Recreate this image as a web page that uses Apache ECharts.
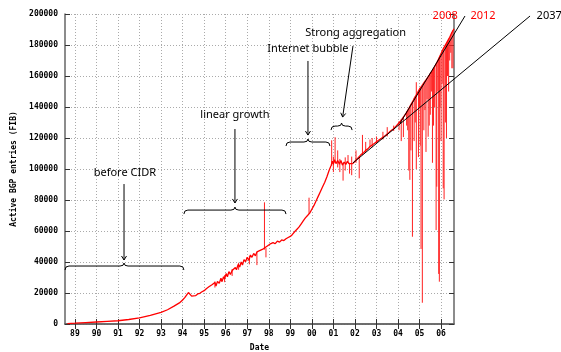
<!DOCTYPE html>
<html><head><meta charset="utf-8">
<script src="https://cdn.jsdelivr.net/npm/echarts@6.0.0/dist/echarts.min.js"></script>
<style>html,body{margin:0;padding:0;background:#fff}#c{width:561px;height:352px}</style>
</head><body><div id="c"></div>
<script>
const yearTicks = [1989,1990,1991,1992,1993,1994,1995,1996,1997,1998,1999,2000,2001,2002,2003,2004,2005,2006];
const yearLabels = ['89','90','91','92','93','94','95','96','97','98','99','00','01','02','03','04','05','06'];
const bgpYears = [1988.65,1989.0,1989.5,1990.0,1990.5,1991.0,1991.5,1992.0,1992.5,1993.0,1993.3,1993.6,1993.85,1994.0,1994.1,1994.2,1994.27,1994.35,1994.42,1994.5,1994.6,1994.7,1994.8,1994.9,1995.0,1995.1,1995.15,1995.22,1995.3,1995.38,1995.45,1995.5,1995.55,1995.62,1995.7,1995.78,1995.83,1995.9,1995.95,1996.02,1996.08,1996.15,1996.22,1996.3,1996.37,1996.45,1996.5,1996.58,1996.65,1996.72,1996.78,1996.85,1996.92,1997.0,1997.08,1997.15,1997.22,1997.3,1997.38,1997.45,1997.52,1997.6,1997.68,1997.75,1997.82,1997.9,1997.97,1998.05,1998.12,1998.2,1998.3,1998.4,1998.5,1998.6,1998.7,1998.8,1998.9,1999.0,1999.1,1999.2,1999.3,1999.4,1999.5,1999.6,1999.7,1999.8,1999.9,2000.0,2000.1,2000.2,2000.3,2000.4,2000.5,2000.6,2000.7,2000.8,2000.9,2000.95,2001.0,2001.05,2001.12,2001.2,2001.28,2001.35,2001.42,2001.5,2001.58,2001.65,2001.72,2001.8,2001.9,2002.0,2002.1,2002.2,2002.3,2002.4,2002.5,2002.6,2002.7,2002.8,2002.9,2003.0,2003.1,2003.2,2003.3,2003.4,2003.5,2003.6,2003.7,2003.8,2003.9,2004.0,2004.1,2004.2,2004.3,2004.4,2004.5,2004.6,2004.7,2004.8,2004.9,2005.0,2005.1,2005.2,2005.3,2005.4,2005.5,2005.6,2005.7,2005.8,2005.9,2006.0,2006.1,2006.2,2006.3,2006.4,2006.5,2006.6];
const bgpEntries = [300,500,900,1300,1700,2100,2900,4000,5600,7500,9200,11500,13600,15500,17000,19000,20300,19200,18000,18600,18300,19400,19800,20800,21500,22800,22000,24000,23200,25500,24300,26800,24500,27500,26200,29500,27300,30500,29000,32500,30500,33800,32000,34500,33500,36500,35000,38500,36800,40000,38000,41500,40200,43000,41000,44500,43000,45500,44000,46500,45500,47500,46500,48500,47500,50000,49000,51500,50500,52500,51800,53500,52800,54200,53800,55000,55800,56500,57800,59500,61000,62500,64500,66500,68500,70000,71500,74000,76500,79500,82500,85500,88500,91500,95000,99000,102500,105000,103000,106000,103500,105500,103000,105500,102500,104500,103000,105000,103500,104500,103500,105000,106500,108000,109500,110500,112000,113000,114500,115500,116500,117500,118500,119500,120500,121500,122500,123800,125000,126000,127500,129000,130500,132500,134500,136500,139000,141500,144000,146500,149000,151500,153500,155500,157500,159500,161500,163500,166000,168500,171500,174500,177500,180000,182500,185000,188000,190500];
const spikeYears = [1995.5,1995.95,1996.3,1996.6,1997.1,1997.45,1997.8,1997.87,1999.87,2000.92,2001.0,2001.08,2001.2,2001.3,2001.45,2001.55,2001.68,2001.75,2001.85,2002.05,2002.2,2002.35,2002.5,2002.7,2002.8,2003.0,2003.3,2003.5,2003.8,2004.05,2004.15,2004.25,2004.4,2004.45,2004.5,2004.55,2004.6,2004.67,2004.75,2004.8,2004.85,2004.95,2005.0,2005.03,2005.07,2005.13,2005.2,2005.25,2005.3,2005.35,2005.4,2005.45,2005.5,2005.55,2005.6,2005.65,2005.7,2005.77,2005.8,2005.85,2005.89,2005.92,2005.95,2006.0,2006.05,2006.1,2006.14,2006.2,2006.25,2006.3,2006.35,2006.4,2006.45,2006.5,2006.55];
const spikeTop = [27500,31500,35500,39500,44000,46500,78500,49000,81500,118500,108000,120500,112000,106500,104000,107500,109000,104000,108000,112000,108000,122000,117500,119000,120000,121000,124000,127000,128000,131000,132000,133500,137000,138000,139000,140000,141500,143000,146000,147000,156000,150000,152000,152500,152500,153500,155000,156000,157000,158000,159000,160500,161000,162500,163000,164500,165500,167000,168000,170000,171000,172000,173000,174000,176000,177000,178500,180000,181000,182000,184000,185000,186500,188000,189500];
const spikeBottom = [23500,27000,31000,35000,38500,38000,48000,43000,71000,102000,98000,104000,101000,98000,92500,99000,104000,97000,96000,104000,94000,109000,111000,114000,114000,117000,119000,121000,124500,125000,118000,120600,128000,125000,99000,93000,112000,56300,118000,130000,100000,107700,140000,115000,48400,13700,125000,138000,111000,145000,120800,128000,135000,150000,104000,128000,140000,60600,88600,150000,32300,27300,140000,118000,155000,87500,80400,130000,120000,160000,150000,170000,175000,165000,165000];
const trendSlowYears = [2001.91, 2010.13];
const trendSlowEntries = [103900, 198700];
const trendFastYears = [2004.1, 2007.11];
const trendFastEntries = [129700, 198700];

const notes = [
  {text:'before CIDR', tx:1991.32, ty:97400, ax:1991.28, ay1:90300, ay2:41300, axEnd:1991.28, bx1:1988.54, bx2:1994.06, bm:1991.28, by:37400},
  {text:'linear growth', tx:1996.43, ty:134800, ax:1996.43, ay1:125800, ay2:78100, axEnd:1996.43, bx1:1994.06, bx2:1998.8, bm:1996.43, by:73500},
  {text:'Internet bubble', tx:1999.82, ty:177400, ax:1999.82, ay1:169700, ay2:121900, axEnd:1999.82, bx1:1998.8, bx2:2000.84, bm:1999.82, by:117400},
  {text:'Strong aggregation', tx:2002.03, ty:187700, ax:2001.91, ay1:179400, ay2:133500, axEnd:2001.43, bx1:2000.89, bx2:2001.87, bm:2001.38, by:127700}
];
const endLabels = [
  {text:'2008', x:2006.19, y:198700, color:'#ff0000'},
  {text:'2012', x:2007.95, y:198700, color:'#ff0000'},
  {text:'2037', x:2011.02, y:198700, color:'#000000'}
];

const chart = echarts.init(document.getElementById('c'), null, {renderer:'canvas'});
const monoFont = 'DejaVu Sans Mono';
const frame = {show:true, lineStyle:{color:'#666', width:1.5}};
const tick = {show:true, inside:true, length:5, lineStyle:{color:'#333', width:1}};
const xMin = 1988.54, xMax = 2006.6;
const mainData = bgpYears.map((y,i)=>[y, bgpEntries[i]]);
const spikeData = spikeYears.map((y,i)=>[y, spikeTop[i], spikeBottom[i]]);
const trendData = [
  [trendSlowYears[0], trendSlowEntries[0], trendSlowYears[1], trendSlowEntries[1]],
  [trendFastYears[0], trendFastEntries[0], trendFastYears[1], trendFastEntries[1]]
];

chart.setOption({
  animation:false,
  grid:{left:65, top:14, right:107, bottom:28, show:false, containLabel:false, outerBoundsMode:'none'},
  xAxis:[
    {type:'value', min:xMin, max:xMax, position:'bottom',
     axisLine:frame,
     axisTick:Object.assign({customValues:yearTicks}, tick),
     axisLabel:{customValues:yearTicks, margin:6, fontFamily:monoFont, fontWeight:'bold', fontSize:8, color:'#000',
       formatter:(v)=>yearLabels[yearTicks.indexOf(Math.round(v))] || ''},
     splitLine:{show:true, lineStyle:{color:'#aaa', type:[1,2], width:1}},
     name:'Date', nameLocation:'middle', nameGap:20,
     nameTextStyle:{fontFamily:monoFont, fontWeight:'bold', fontSize:8, color:'#000'}},
    {type:'value', min:xMin, max:xMax, position:'top',
     axisLine:frame, axisTick:Object.assign({customValues:yearTicks}, tick),
     axisLabel:{show:false}, splitLine:{show:false}}
  ],
  yAxis:[
    {type:'value', min:0, max:200000, interval:20000, position:'left',
     axisLine:frame, axisTick:tick,
     axisLabel:{margin:7, fontFamily:monoFont, fontWeight:'bold', fontSize:8, color:'#000', formatter:(v)=>String(v)},
     splitLine:{show:true, lineStyle:{color:'#aaa', type:[1,2], width:1}},
     name:'Active BGP entries (FIB)', nameLocation:'middle', nameGap:47, nameRotate:90,
     nameTextStyle:{fontFamily:monoFont, fontWeight:'bold', fontSize:8, color:'#000'}},
    {type:'value', min:0, max:200000, interval:20000, position:'right',
     axisLine:frame, axisTick:tick, axisLabel:{show:false}, splitLine:{show:false}}
  ],
  series:[
    {type:'line', data:mainData, showSymbol:false, symbol:'none', lineStyle:{color:'#ff0000', width:1.3}, z:3},
    {type:'custom', data:spikeData, z:3,
     renderItem:(params, api)=>{
       const a = api.coord([api.value(0), api.value(1)]);
       const b = api.coord([api.value(0), api.value(2)]);
       return {type:'line', shape:{x1:a[0], y1:a[1], x2:b[0], y2:b[1]}, style:{stroke:'#ff2020', lineWidth:1}};
     }},
    {type:'custom', data:trendData, z:4, clip:false,
     renderItem:(params, api)=>{
       const a = api.coord([api.value(0), api.value(1)]);
       const b = api.coord([api.value(2), api.value(3)]);
       return {type:'line', shape:{x1:a[0], y1:a[1], x2:b[0], y2:b[1]}, style:{stroke:'#000', lineWidth:1}};
     }}
  ]
});

function px(x, y){ return chart.convertToPixel({xAxisIndex:0, yAxisIndex:0}, [x, y]); }
const annoFont = '11px "Noto Sans"';
const ink = {stroke:'#000', lineWidth:1, fill:null};
const g = [];
function seg(x1,y1,x2,y2){ g.push({type:'line', shape:{x1,y1,x2,y2}, style:Object.assign({}, ink), z:10}); }
function curve(x1,y1,cx,cy,x2,y2){ g.push({type:'bezierCurve', shape:{x1,y1,cpx1:cx,cpy1:cy,x2,y2}, style:Object.assign({}, ink), z:10}); }
notes.forEach(n=>{
  const t = px(n.tx, n.ty);
  g.push({type:'text', x:t[0], y:t[1], style:{text:n.text, font:annoFont, fill:'#000', align:'center', verticalAlign:'middle'}, z:10});
  const a = px(n.ax, n.ay1), b = px(n.axEnd, n.ay2);
  seg(a[0], a[1], b[0], b[1]);
  const dx = b[0]-a[0], dy = b[1]-a[1], L = Math.hypot(dx, dy), ux = dx/L, uy = dy/L;
  seg(b[0]-4*ux-2.5*uy, b[1]-4*uy+2.5*ux, b[0], b[1]);
  seg(b[0]-4*ux+2.5*uy, b[1]-4*uy-2.5*ux, b[0], b[1]);
  const p1 = px(n.bx1, n.by), p2 = px(n.bx2, n.by), pm = px(n.bm, n.by);
  const X1=p1[0], X2=p2[0], Xm=pm[0], Y=p1[1];
  curve(X1, Y+4, X1, Y, X1+4, Y);
  seg(X1+4, Y, Xm-4, Y);
  curve(Xm-4, Y, Xm, Y, Xm, Y-3);
  curve(Xm, Y-3, Xm, Y, Xm+4, Y);
  seg(Xm+4, Y, X2-4, Y);
  curve(X2-4, Y, X2, Y, X2, Y+4);
});
endLabels.forEach(l=>{
  const p = px(l.x, l.y);
  g.push({type:'text', x:p[0], y:p[1], style:{text:l.text, font:annoFont, fill:l.color, align:'center', verticalAlign:'middle'}, z:10});
});
chart.setOption({graphic:g});
</script></body></html>
